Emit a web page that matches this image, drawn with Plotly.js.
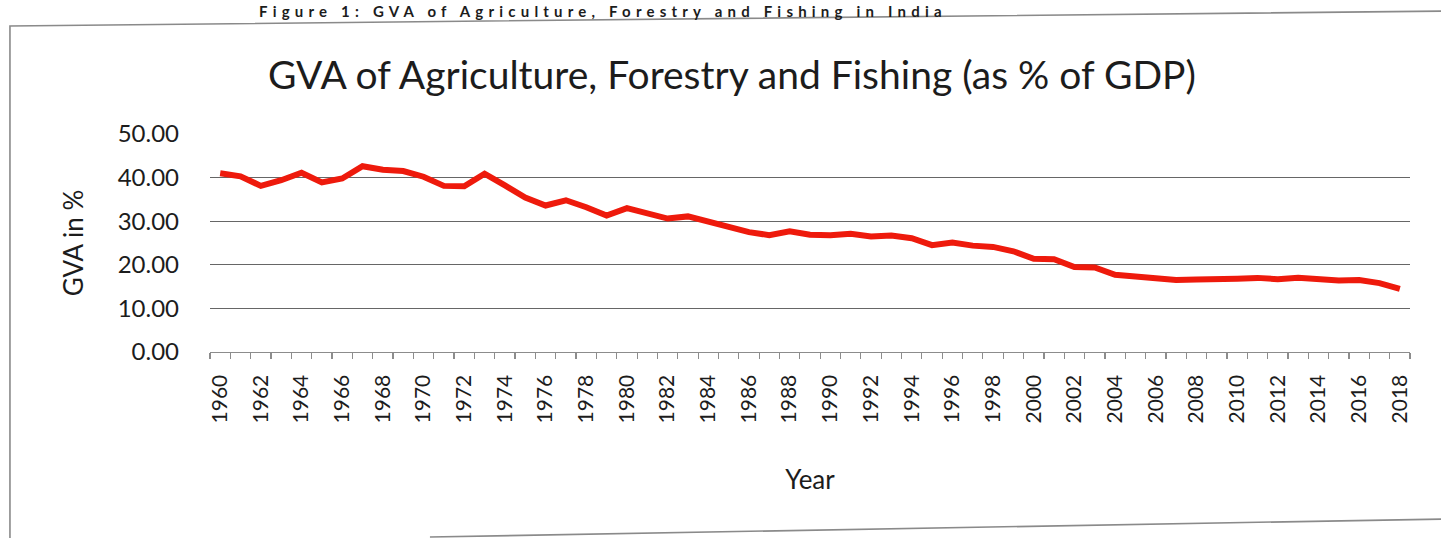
<!DOCTYPE html>
<html>
<head>
<meta charset="utf-8">
<script src="https://cdn.plot.ly/plotly-3.0.1.min.js"></script>
<style>
  html, body { margin: 0; padding: 0; background: #ffffff; overflow: hidden; }
  #wrap { position: relative; width: 1441px; height: 538px; overflow: hidden; background: #fff; }
  #chart { position: absolute; left: 0; top: 0; width: 1441px; height: 538px; }
  #caption { position: absolute; left: 259px; top: 1px; font-family: Lato, "Open Sans", sans-serif;
             font-weight: bold; font-size: 15px; letter-spacing: 5.2px; color: #1c1c1c;
             white-space: nowrap; line-height: 20px; z-index: 2; }
</style>
</head>
<body>
<div id="wrap">
  <div id="chart"></div>
  <div id="caption">Figure 1: GVA of Agriculture, Forestry and Fishing in India</div>
</div>
<script>
// ---- data ----
var years = [1960,1961,1962,1963,1964,1965,1966,1967,1968,1969,
             1970,1971,1972,1973,1974,1975,1976,1977,1978,1979,
             1980,1981,1982,1983,1984,1985,1986,1987,1988,1989,
             1990,1991,1992,1993,1994,1995,1996,1997,1998,1999,
             2000,2001,2002,2003,2004,2005,2006,2007,2008,2009,
             2010,2011,2012,2013,2014,2015,2016,2017,2018];
var gvaPct = [41.0,40.3,38.1,39.4,41.1,38.9,39.8,42.6,41.8,41.5,
              40.2,38.1,38.0,40.9,38.2,35.4,33.6,34.8,33.2,31.3,
              33.0,31.7,30.6,31.1,30.0,28.8,27.5,26.8,27.7,26.9,
              26.8,27.1,26.5,26.7,26.1,24.5,25.1,24.4,24.1,23.1,
              21.4,21.3,19.5,19.4,17.7,17.3,16.8,16.5,16.6,16.6,
              16.8,17.0,16.7,17.0,16.7,16.4,16.5,15.8,14.5];
var tickYears = [1960,1962,1964,1966,1968,1970,1972,1974,1976,1978,
                 1980,1982,1984,1986,1988,1990,1992,1994,1996,1998,
                 2000,2002,2004,2006,2008,2010,2012,2014,2016,2018];
var tickLabels = tickYears.map(String);
var yTicks = [0,10,20,30,40,50];

var chartTitle = "GVA of Agriculture, Forestry and Fishing (as % of GDP)";
var xTitle = "Year";
var yTitle = "GVA in %";

var FONT = "Lato, 'Open Sans', sans-serif";
var TXT = "#1c1c1c";

var trace = {
  x: years, y: gvaPct, type: "scatter", mode: "lines",
  line: { color: "#ee1a0c", width: 6, shape: "linear" },
  hoverinfo: "x+y", showlegend: false
};

var layout = {
  width: 1441, height: 538,
  margin: { l: 210, r: 31, t: 134, b: 186, pad: 0 },
  paper_bgcolor: "#ffffff", plot_bgcolor: "#ffffff",
  font: { family: FONT, color: TXT },
  title: { text: chartTitle, font: { family: FONT, size: 39, color: TXT },
           xref: "container", x: 0.508, xanchor: "center",
           yref: "container", y: 0.86, yanchor: "middle" },
  xaxis: {
    type: "linear", range: [1959.5, 2018.5], fixedrange: true,
    tickmode: "array", tickvals: tickYears, ticktext: tickLabels,
    tickangle: -90, ticks: "", ticklabelstandoff: 13,
    tickfont: { family: FONT, size: 21, color: TXT },
    showgrid: false, zeroline: false,
    showline: true, linecolor: "#8c8c8c", linewidth: 1.3,
    minor: { tick0: 1959.5, dtick: 1, ticks: "outside", ticklen: 6,
             tickcolor: "#8c8c8c", tickwidth: 1.2, showgrid: false },
    title: { text: xTitle, font: { family: FONT, size: 26, color: TXT }, standoff: 48 }
  },
  yaxis: {
    range: [0, 50], fixedrange: true, tickmode: "array", tickvals: yTicks,
    tickformat: ".2f", ticks: "", ticklabelstandoff: 30,
    tickfont: { family: FONT, size: 24, color: TXT },
    showgrid: true, gridcolor: "#666666", gridwidth: 1.2,
    zeroline: false, showline: false,
    title: { text: yTitle, font: { family: FONT, size: 26, color: TXT }, standoff: 26 }
  },
  shapes: [
    { type: "path", xref: "paper", yref: "paper",
      path: "M -0.1667,-0.86 L -0.1667,1.4954 L 1.03,1.564",
      line: { color: "#8a8a8a", width: 1.6 } },
    { type: "path", xref: "paper", yref: "paper",
      path: "M 0.1833,-0.8486 L 1.03,-0.766",
      line: { color: "#8a8a8a", width: 1.6 } }
  ]
};

Plotly.newPlot("chart", [trace], layout, { staticPlot: true, displayModeBar: false });
</script>
</body>
</html>
